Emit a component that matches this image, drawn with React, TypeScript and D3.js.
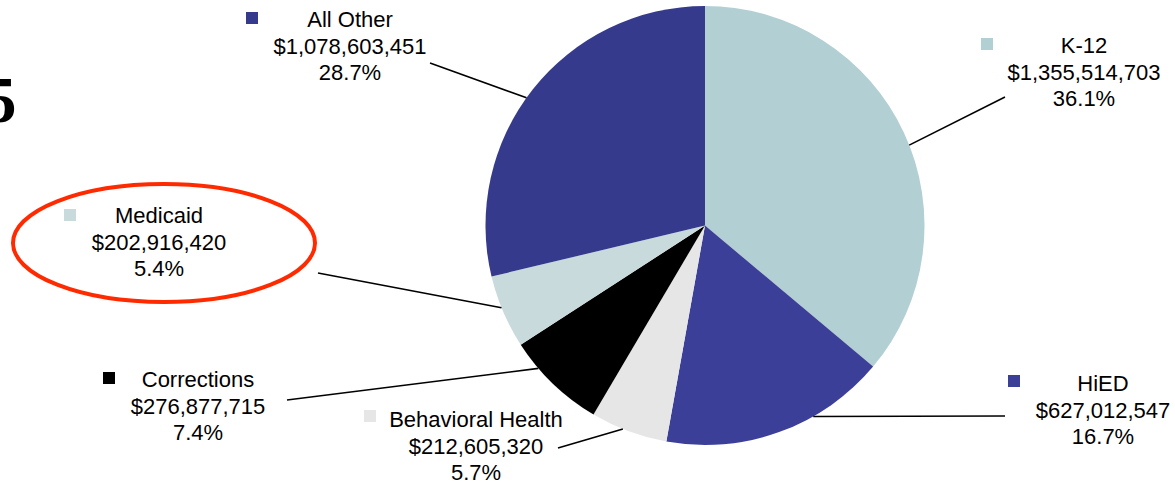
import React from "react";
import * as d3 from "d3";

const categories = ["K-12", "HiED", "Behavioral Health", "Corrections", "Medicaid", "All Other"];
const values = [1355514703, 627012547, 212605320, 276877715, 202916420, 1078603451];
const colors = ["#B2CFD3", "#3C3F98", "#E6E6E6", "#000000", "#C9DADC", "#363A8C"];

// label layout: center x, first baseline y, legend square [x,y], leader start [x,y]
const labelCx = [1084, 1103, 476, 198, 159, 350];
const labelY0 = [53, 391, 427, 387, 223, 27];
const squareXY: [number, number][] = [[981, 38], [1008, 375], [364, 410], [103, 372], [64, 209], [246, 12]];
const leaderStart: [number, number][] = [[1005, 97], [1005, 416], [558, 448], [287, 400], [318, 273], [430, 63]];
// where along each slice's arc the leader line meets the pie (0 = slice start, 1 = slice end)
const leaderFrac = [0.527, 0.34, 0.58, 0.71, 0.56, 0.474];

const W = 1175;
const H = 483;
const CX = 705;
const CY = 225.5;
const R = 219.5;
const LINE_H = 26.5;

export default function App() {
  const total = d3.sum(values);
  const pie = d3.pie<number>().sort(null).value((d) => d)(values);
  const arc = d3.arc<d3.PieArcDatum<number>>().innerRadius(0).outerRadius(R);
  const money = d3.format("$,");
  const pct = d3.format(".1%");

  return (
    <svg
      width={W}
      height={H}
      style={{ position: "absolute", left: 0, top: 0, background: "#fff" }}
      fontFamily="'Liberation Sans', Arial, sans-serif"
    >
      <rect x={0} y={0} width={W} height={H} fill="#fff" />
      <text x={-16} y={122} fontFamily="'Liberation Serif', 'Times New Roman', serif" fontWeight="bold" fontSize={65} fill="#000">
        5
      </text>
      <g transform={`translate(${CX},${CY})`}>
        {pie.map((p, i) => (
          <path key={i} d={arc(p) || ""} fill={colors[i]} />
        ))}
      </g>
      {pie.map((p, i) => {
        const a = p.startAngle + (p.endAngle - p.startAngle) * leaderFrac[i];
        const ex = CX + R * Math.sin(a);
        const ey = CY - R * Math.cos(a);
        return (
          <line key={"l" + i} x1={leaderStart[i][0]} y1={leaderStart[i][1]} x2={ex} y2={ey} stroke="#000" strokeWidth={1.6} />
        );
      })}
      {categories.map((c, i) => (
        <g key={"t" + i}>
          <rect x={squareXY[i][0]} y={squareXY[i][1]} width={12} height={12} fill={colors[i]} />
          <text textAnchor="middle" fontSize={22} fill="#000">
            <tspan x={labelCx[i]} y={labelY0[i]}>{c}</tspan>
            <tspan x={labelCx[i]} y={labelY0[i] + LINE_H}>{money(values[i])}</tspan>
            <tspan x={labelCx[i]} y={labelY0[i] + 2 * LINE_H}>{pct(values[i] / total)}</tspan>
          </text>
        </g>
      ))}
      <ellipse cx={164} cy={243} rx={151} ry={59} fill="none" stroke="#FF2A00" strokeWidth={4} />
    </svg>
  );
}
